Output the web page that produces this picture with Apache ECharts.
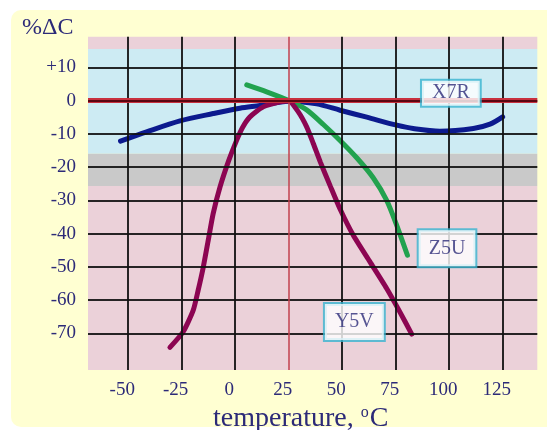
<!DOCTYPE html>
<html><head><meta charset="utf-8">
<script src="https://cdn.jsdelivr.net/npm/echarts@6/dist/echarts.min.js"></script>
<style>html,body{margin:0;padding:0;background:#fff;}#c{width:547px;height:430px;}</style>
</head><body><div id="c"></div>
<script>
// ---- data ----
const xTicks = [-50, -25, 0, 25, 50, 75, 100, 125];
const yTicks = [10, 0, -10, -20, -30, -40, -50, -60, -70];
const xRange = [-68.8, 141.2];
const yRange = [-81, 19.2];
// background bands (value ranges)
const bandPinkTop = [15.5, 19.2];
const bandBlue = [-16, 15.5];
const bandGray = [-25.7, -16];
const bandPinkLow = [-81, -25.7];
const refTemp = 25;

const x7rTemp = [-53.6, -41.4, -25.8, -10.3, 2.2, 11.6, 25, 38.1, 49, 61.5, 75.5, 83.2, 95.7, 111.3, 119.1, 125];
const x7rVal  = [-12.2, -9.4, -6.1, -3.9, -2.3, -1.5, -0.2, -1, -2.9, -5, -7.4, -8.4, -9.2, -8.4, -7.1, -4.9];
const z5uTemp = [5.4, 14.7, 25, 33.4, 41.2, 49, 56.8, 64.5, 70.8, 75.5, 80.5];
const z5uVal  = [4.7, 2.6, 0, -2.8, -7.2, -12, -17.2, -23.2, -30, -37.5, -46.5];
const y5vTemp = [-30.5, -24.3, -19.6, -17.3, -14.9, -12.6, -10.3, -7.1, -3, 0.7, 3.5, 6.9, 13.1, 20.9, 25, 29.5, 33.4, 36.5, 39.8, 44.5, 49, 55.2, 63, 70.8, 76.5, 82.5];
const y5vVal  = [-74.2, -69.5, -63, -57, -50, -42, -34, -26, -18, -11.9, -8, -4.9, -1.9, -0.4, -0.1, -3.4, -7.9, -12.9, -18.5, -25.8, -32.6, -40.5, -48.5, -56.5, -63, -70.2];

const labelNames = ['X7R', 'Z5U', 'Y5V'];
const labelTemp = [100.8, 99, 55.7];
const labelVal = [2.2, -44.4, -66.6];

const xName = 'temperature, ';
const yName = '%ΔC';

// ---- build ----
const zip = (a, b) => a.map((v, i) => [v, b[i]]);
const navy = '#2c2a78';
const serif = '"Liberation Serif", "DejaVu Serif", serif';

const chart = echarts.init(document.getElementById('c'), null, {renderer: 'canvas'});
const boxStyle = (i) => ({
  show: true, position: 'inside', formatter: labelNames[i],
  color: navy, fontFamily: serif, fontSize: 20, lineHeight: 20,
  backgroundColor: '#ffffff', borderColor: '#38b4d0', borderWidth: 2,
  padding: i === 0 ? [3, 10, 2, 10] : [8, 10, 8, 10]
});

chart.setOption({
  animation: false,
  backgroundColor: '#ffffff',
  graphic: [{
    type: 'rect', z: -10, silent: true,
    shape: {x: 11, y: 10, width: 545, height: 417, r: 10},
    style: {fill: '#ffffd2'}
  }, {
    type: 'text', z: 10, silent: true, left: 22, top: 16,
    style: {text: yName, fill: navy, font: '24px ' + serif}
  }],
  grid: {left: 88, right: 9.7, top: 36.7, bottom: 60, containLabel: false, outerBoundsMode: 'none'},
  xAxis: {
    type: 'value', min: xRange[0], max: xRange[1],
    axisLine: {show: false}, axisTick: {show: false}, splitLine: {show: false},
    axisLabel: {customValues: xTicks, color: navy, fontFamily: serif, fontSize: 19, margin: 11, padding: [0, 12, 0, 0]},
    name: xName + '{s|o}C', nameLocation: 'middle', nameGap: 33,
    nameTextStyle: {color: navy, fontFamily: serif, fontSize: 28, padding: [0, 24, 0, 0],
      rich: {s: {fontSize: 16, verticalAlign: 'top', color: navy, fontFamily: serif, padding: [0, 1, 12, 0]}}}
  },
  yAxis: {
    type: 'value', min: yRange[0], max: yRange[1],
    axisLine: {show: false}, axisTick: {show: false}, splitLine: {show: false},
    axisLabel: {customValues: yTicks, color: navy, fontFamily: serif, fontSize: 19, margin: 12, padding: [5, 0, 0, 0],
      formatter: v => (v > 0 ? '+' + v : String(v))}
  },
  series: [
    { // background bands and grid
      type: 'line', z: 1, silent: true, data: [[xTicks[0], 0]], showSymbol: false, lineStyle: {opacity: 0},
      markArea: {
        silent: true,
        data: [
          [{yAxis: bandPinkTop[0], itemStyle: {color: '#ebd1d9'}}, {yAxis: bandPinkTop[1]}],
          [{yAxis: bandBlue[0], itemStyle: {color: '#cdebf3'}}, {yAxis: bandBlue[1]}],
          [{yAxis: bandGray[0], itemStyle: {color: '#c9c9c9'}}, {yAxis: bandGray[1]}],
          [{yAxis: bandPinkLow[0], itemStyle: {color: '#ebd1d9'}}, {yAxis: bandPinkLow[1]}]
        ]
      },
      markLine: {
        silent: true, symbol: 'none', label: {show: false},
        lineStyle: {color: '#111111', width: 2, type: 'solid', opacity: 0.9},
        data: xTicks.filter(t => t !== refTemp).map(t => ({xAxis: t}))
          .concat(yTicks.filter(t => t !== 0).map(t => ({yAxis: t})))
          .concat([{xAxis: refTemp, lineStyle: {color: '#c2404e', width: 1.5, opacity: 1}}])
          .concat([{yAxis: 0, lineStyle: {color: '#c8303e', width: 5, opacity: 1}}])
          .concat([{yAxis: 0, lineStyle: {color: '#5a0612', width: 2.2, opacity: 1}}])
      }
    },
    {type: 'line', name: 'X7R', z: 3, data: zip(x7rTemp, x7rVal), smooth: 0.3, showSymbol: false,
     lineStyle: {color: '#0c1a8e', width: 5, cap: 'round'}},
    {type: 'line', name: 'Z5U', z: 3, data: zip(z5uTemp, z5uVal), smooth: 0.25, showSymbol: false,
     lineStyle: {color: '#22a24e', width: 5, cap: 'round'}},
    {type: 'line', name: 'Y5V', z: 4, data: zip(y5vTemp, y5vVal), smooth: 0.2, showSymbol: false,
     lineStyle: {color: '#8c0552', width: 5, cap: 'round'}},
    {type: 'scatter', z: 6, silent: true, symbolSize: 0,
     data: labelNames.map((n, i) => ({value: [labelTemp[i], labelVal[i]], label: boxStyle(i)}))}
  ]
});
</script></body></html>
